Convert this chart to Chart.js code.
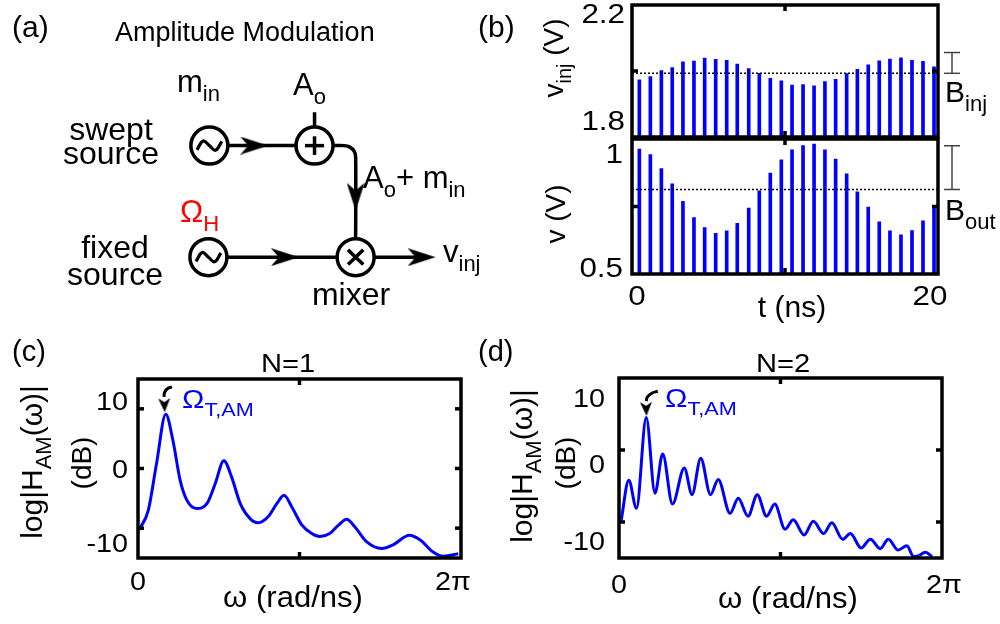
<!DOCTYPE html>
<html>
<head>
<meta charset="utf-8">
<script src="https://cdn.jsdelivr.net/npm/chart.js@4.4.0/dist/chart.umd.min.js"></script>
<style>
  body { margin: 0; background: #fff; }
  #wrap { position: relative; width: 1000px; height: 624px; overflow: hidden; }
  #wrap canvas { position: absolute; left: 0; top: 0; }
</style>
</head>
<body>
<div id="wrap">
  <canvas id="diagram" width="1000" height="624"></canvas>
  <canvas id="inj" width="1000" height="624"></canvas>
  <canvas id="out" width="1000" height="624"></canvas>
  <canvas id="n1" width="1000" height="624"></canvas>
  <canvas id="n2" width="1000" height="624"></canvas>
</div>
<script>
// ---------- data ----------
// (b) pulse train, t in ns
const pulseTimes = [0.48, 1.20, 1.92, 2.63, 3.33, 4.05, 4.75, 5.47, 6.19, 6.88, 7.63, 8.32, 9.04, 9.76,
  10.46, 11.18, 11.90, 12.61, 13.31, 14.03, 14.73, 15.44, 16.16, 16.86, 17.58, 18.30, 19.02, 19.74]
const vInjPeaks = [1.973, 1.983, 2.001, 2.010, 2.028, 2.030, 2.039, 2.035, 2.032, 2.021, 2.007, 1.993, 1.978, 1.970,
  1.957, 1.959, 1.955, 1.968, 1.975, 1.992, 2.005, 2.019, 2.031, 2.036, 2.040, 2.032, 2.029, 2.013]
const vOutPeaks = [0.963, 0.942, 0.890, 0.834, 0.769, 0.709, 0.672, 0.651, 0.660, 0.688, 0.744, 0.808, 0.874, 0.923,
  0.960, 0.976, 0.981, 0.960, 0.926, 0.871, 0.804, 0.748, 0.693, 0.660, 0.645, 0.661, 0.697, 0.748]
const injMean = 1.993
const outMean = 0.813
const bInjRange = [1.993, 2.056]
const bOutRange = [0.813, 0.975]

// (c) N=1 spectrum, omega in rad/ns, gain in dB
const n1Omega = [0.02, 0.20, 0.36, 0.54, 0.68, 0.82, 0.95, 1.14, 1.34, 1.50, 1.67, 1.82, 1.99, 2.18, 2.34, 2.53, 2.70,
  2.84, 2.99, 3.19, 3.38, 3.54, 3.73, 3.90, 4.06, 4.22, 4.45, 4.74, 4.96, 5.28, 5.49, 5.74, 5.94, 6.23]
const n1Gain = [-10.3, -7.0, 0.8, 9.1, 4.7, -2.0, -5.3, -6.7, -5.9, -2.6, 1.3, -1.4, -5.9, -8.4, -9.1, -8.1, -5.9,
  -4.5, -6.4, -9.5, -10.9, -11.4, -10.9, -9.5, -8.5, -9.8, -12.3, -13.4, -12.8, -11.2, -12.0, -14.0, -14.7, -14.3]

// (d) N=2 spectrum
const n2Omega = [0.04, 0.19, 0.34, 0.53, 0.70, 0.85, 1.04, 1.27, 1.42, 1.59, 1.78, 1.93, 2.16, 2.32, 2.51, 2.69, 2.87,
  3.03, 3.23, 3.39, 3.60, 3.78, 3.98, 4.14, 4.35, 4.50, 4.71, 4.89, 5.08, 5.24, 5.43, 5.60, 5.73, 5.82, 5.96, 6.09]
const n2Gain = [-9.9, -4.2, -8.1, 4.5, -6.0, -0.55, -7.5, -2.5, -6.2, -1.15, -6.2, -4.1, -8.8, -6.7, -9.2, -6.2, -9.2,
  -7.5, -11.0, -9.7, -11.8, -9.9, -11.6, -10.1, -12.4, -11.6, -13.6, -12.4, -13.7, -12.4, -13.9, -13.3, -14.8, -14.7, -14.2, -14.8]

// tick labels
const injTickValues = [2.2, 1.8]
const injTickLabels = ['2.2', '1.8']
const outTickValues = [1, 0.5]
const outTickLabels = ['1', '0.5']
const timeTickValues = [0, 20]
const timeTickLabels = ['0', '20']
const dbTickValues = [10, 0, -10]
const dbTickLabels = ['10', '0', '-10']
const omegaTickValues = [0, 2 * Math.PI]
const omegaTickLabels = ['0', '2\u03c0']

// ---------- helpers ----------
const FONT = '"Liberation Sans", Arial, Helvetica, sans-serif'

function parseRich(s) {
  const out = []
  const re = /_\{([^}]*)\}/g
  let last = 0, m
  while ((m = re.exec(s))) {
    if (m.index > last) out.push([s.slice(last, m.index), 0])
    out.push([m[1], 1])
    last = re.lastIndex
  }
  if (last < s.length) out.push([s.slice(last), 0])
  return out
}

function drawRich(ctx, s, x, y, o) {
  const size = o.size || 28
  const sub = Math.round(size * 0.72)
  const sx = o.sx || 1
  const parts = parseRich(s)
  let w = 0
  parts.forEach(p => {
    ctx.font = (p[1] ? sub : size) + 'px ' + FONT
    p.push(ctx.measureText(p[0]).width)
    w += p[2]
  })
  ctx.save()
  ctx.translate(x, y)
  if (o.rot) ctx.rotate(o.rot)
  ctx.scale(sx, 1)
  let cx = o.align === 'center' ? -w / 2 : o.align === 'right' ? -w : 0
  ctx.fillStyle = o.color || '#000'
  ctx.textAlign = 'left'
  ctx.textBaseline = 'alphabetic'
  parts.forEach(p => {
    ctx.font = (p[1] ? sub : size) + 'px ' + FONT
    ctx.fillText(p[0], cx, p[1] ? size * 0.3 : 0)
    cx += p[2]
  })
  ctx.restore()
}

function dart(len, wid) {
  const c = document.createElement('canvas')
  c.width = len
  c.height = wid
  const g = c.getContext('2d')
  g.fillStyle = '#000'
  g.beginPath()
  g.moveTo(len, wid / 2)
  g.lineTo(0, 0)
  g.lineTo(len * 0.28, wid / 2)
  g.lineTo(0, wid)
  g.closePath()
  g.fill()
  return c
}
const bigDart = dart(28, 18)
const smallDart = dart(14, 12)

// frame, inner ticks, tick labels, free text
const deco = {
  id: 'deco',
  afterDatasetsDraw(chart, args, o) {
    const ctx = chart.ctx
    const a = chart.chartArea
    const xs = chart.scales.x, ys = chart.scales.y
    const seg = (x1, y1, x2, y2) => { ctx.beginPath(); ctx.moveTo(x1, y1); ctx.lineTo(x2, y2); ctx.stroke() }
    ctx.save()
    if (o.frame) {
      ctx.strokeStyle = '#000'
      ctx.lineWidth = o.lw
      const tl = o.tickLen
      ;(o.xTicks || []).forEach(v => {
        const p = xs.getPixelForValue(v)
        seg(p, a.top, p, a.top + tl)
        seg(p, a.bottom, p, a.bottom - tl)
      })
      ;(o.yTicks || []).forEach(v => {
        const p = ys.getPixelForValue(v)
        seg(a.left, p, a.left + tl, p)
        seg(a.right, p, a.right - tl, p)
      })
      ctx.strokeRect(a.left, a.top, a.right - a.left, a.bottom - a.top)
    }
    ;(o.brackets || []).forEach(b => {
      ctx.strokeStyle = '#444'
      ctx.lineWidth = 1.5
      const y0 = ys.getPixelForValue(b.y0), y1 = ys.getPixelForValue(b.y1)
      seg(b.x, y0, b.x, y1)
      seg(b.x - b.cap, y0, b.x + b.cap, y0)
      seg(b.x - b.cap, y1, b.x + b.cap, y1)
    })
    if (o.yLab) {
      const L = o.yLab
      L.values.forEach((v, i) => {
        drawRich(ctx, L.labels[i], L.right, ys.getPixelForValue(v) + L.shift[i], { size: L.size, sx: L.sx, align: 'right' })
      })
    }
    if (o.xLab) {
      const L = o.xLab
      L.values.forEach((v, i) => {
        drawRich(ctx, L.labels[i], xs.getPixelForValue(v) + L.shift[i], L.baseline, { size: L.size, sx: L.sx, align: 'center' })
      })
    }
    ;(o.texts || []).forEach(t => drawRich(ctx, t.s, t.x, t.y, t))
    ctx.restore()
  }
}
Chart.register(deco)

Chart.defaults.animation = false
Chart.defaults.responsive = false
Chart.defaults.plugins.legend.display = false
Chart.defaults.plugins.tooltip.enabled = false
Chart.defaults.events = []

const BLUE = '#0000ff'

// ---------- (a) block diagram, page-pixel coordinates ----------
const wire = (pts, tension) => ({
  type: 'line', data: pts, borderColor: '#000', borderWidth: 3.5, pointRadius: 0,
  tension: tension || 0, fill: false, order: 3,
})
const stroke = (pts, w) => ({
  type: 'line', data: pts, borderColor: '#000', borderWidth: w || 3.5, pointRadius: 0,
  tension: 0.4, fill: false, order: 0,
})
new Chart(document.getElementById('diagram'), {
  type: 'scatter',
  data: {
    datasets: [
      wire([{ x: 214, y: 133 }, { x: 288, y: 133 }]),
      wire([{ x: 306, y: 97 }, { x: 306, y: 115 }]),
      wire([{ x: 324, y: 133 }, { x: 337, y: 133 }, { x: 343, y: 134.6 }, { x: 347.4, y: 139 }, { x: 349, y: 145 }, { x: 349, y: 236 }], 0.25),
      wire([{ x: 213, y: 253 }, { x: 331, y: 253 }]),
      wire([{ x: 367, y: 253 }, { x: 420, y: 253 }]),
      {
        data: [{ x: 243, y: 133 }, { x: 275, y: 253 }, { x: 418, y: 253 }],
        pointStyle: bigDart, pointRotation: 0, order: 2,
      },
      {
        data: [{ x: 349, y: 188 }],
        pointStyle: bigDart, pointRotation: 90, order: 2,
      },
      {
        data: [{ x: 196, y: 133 }, { x: 306, y: 133 }, { x: 195, y: 253 }, { x: 349, y: 253 }],
        pointRadius: 18.5, pointBorderWidth: 3.5, pointBorderColor: '#000', pointBackgroundColor: '#fff', order: 1,
      },
      stroke([{ x: 183, y: 137.5 }, { x: 189.5, y: 128 }, { x: 196, y: 133 }, { x: 202.5, y: 138 }, { x: 209, y: 128.5 }], 3.2),
      stroke([{ x: 182, y: 257.5 }, { x: 188.5, y: 248 }, { x: 195, y: 253 }, { x: 201.5, y: 258 }, { x: 208, y: 248.5 }], 3.2),
      stroke([{ x: 296, y: 133 }, { x: 316, y: 133 }], 3.5),
      stroke([{ x: 306, y: 123 }, { x: 306, y: 143 }], 3.5),
      stroke([{ x: 341, y: 245 }, { x: 357, y: 261 }], 3.5),
      stroke([{ x: 341, y: 261 }, { x: 357, y: 245 }], 3.5),
    ],
  },
  options: {
    layout: { padding: 0 },
    scales: {
      x: { type: 'linear', min: 0, max: 1000, display: false },
      y: { type: 'linear', min: 0, max: 624, reverse: true, display: false },
    },
    plugins: {
      deco: {
        texts: [
          { s: '(a)', x: 12, y: 37, size: 30 },
          { s: 'Amplitude Modulation', x: 115, y: 41, size: 27, sx: 1.0 },
          { s: 'm_{in}', x: 177, y: 92, size: 31 },
          { s: 'A_{o}', x: 293, y: 95, size: 31 },
          { s: 'swept', x: 111, y: 140, size: 32, align: 'center' },
          { s: 'source', x: 111, y: 164, size: 32, align: 'center' },
          { s: 'fixed', x: 115, y: 258, size: 32, align: 'center' },
          { s: 'source', x: 115, y: 285, size: 32, align: 'center' },
          { s: '\u03a9_{H}', x: 180, y: 222, size: 31, color: '#ff0000' },
          { s: 'A_{o}+ m_{in}', x: 363, y: 188, size: 31 },
          { s: 'v_{inj}', x: 443, y: 262, size: 31 },
          { s: 'mixer', x: 351, y: 305, size: 32, align: 'center' },
        ],
      },
    },
  },
})

// ---------- (b) time traces ----------
function pulseChart(id, peaks, mean, yMin, yMax, pad, deco) {
  return new Chart(document.getElementById(id), {
    type: 'bar',
    data: {
      datasets: [
        {
          type: 'line',
          data: [{ x: 0, y: mean }, { x: 20, y: mean }],
          borderColor: '#000', borderWidth: 1.6, borderDash: [2, 2], pointRadius: 0, order: 0,
        },
        {
          data: pulseTimes.map((t, i) => ({ x: t, y: peaks[i] })),
          backgroundColor: BLUE, barThickness: 3, order: 1,
        },
      ],
    },
    options: {
      layout: { padding: pad },
      scales: {
        x: { type: 'linear', min: 0, max: 20, offset: false, display: false },
        y: { type: 'linear', min: yMin, max: yMax, beginAtZero: false, display: false },
      },
      plugins: { deco: deco },
    },
  })
}

pulseChart('inj', vInjPeaks, injMean, 1.8, 2.2, { left: 632, right: 62, top: 5, bottom: 487 }, {
  frame: true, lw: 3.5, tickLen: 6, xTicks: [10], yTicks: [2.0],
  yLab: { values: injTickValues, labels: injTickLabels, shift: [18, -7], right: 625, size: 28, sx: 1.12 },
  brackets: [{ x: 952, cap: 8, y0: bInjRange[0], y1: bInjRange[1] }],
  texts: [
    { s: '(b)', x: 478, y: 37, size: 30 },
    { s: 'v_{inj} (V)', x: 563, y: 58, size: 28, rot: -Math.PI / 2, align: 'center' },
    { s: 'B_{inj}', x: 945, y: 102, size: 30 },
  ],
})

pulseChart('out', vOutPeaks, outMean, 0.5, 1.0, { left: 632, right: 62, top: 139, bottom: 350 }, {
  frame: true, lw: 3.5, tickLen: 6, xTicks: [10], yTicks: [0.75],
  yLab: { values: outTickValues, labels: outTickLabels, shift: [24, 3], right: 623, size: 28, sx: 1.12 },
  xLab: { values: timeTickValues, labels: timeTickLabels, shift: [5, -8], baseline: 305, size: 28, sx: 1.12 },
  brackets: [{ x: 952, cap: 8, y0: bOutRange[0], y1: bOutRange[1] }],
  texts: [
    { s: 'v (V)', x: 565, y: 214, size: 28, rot: -Math.PI / 2, align: 'center' },
    { s: 't (ns)', x: 792, y: 317, size: 30, align: 'center' },
    { s: 'B_{out}', x: 945, y: 220, size: 30 },
  ],
})

// ---------- (c), (d) spectra ----------
function spectrumChart(id, omega, gain, yMin, yMax, arrow, pad, deco) {
  return new Chart(document.getElementById(id), {
    type: 'scatter',
    data: {
      datasets: [
        {
          data: omega.map((w, i) => ({ x: w, y: gain[i] })),
          showLine: true, borderColor: BLUE, borderWidth: 3, pointRadius: 0,
          cubicInterpolationMode: 'monotone',
        },
        {
          data: arrow.slice(0, -1),
          showLine: true, borderColor: '#000', borderWidth: 3, pointRadius: 0, tension: 0.4,
        },
        {
          data: arrow.slice(-1),
          pointStyle: smallDart, pointRotation: 88,
        },
      ],
    },
    options: {
      layout: { padding: pad },
      scales: {
        x: { type: 'linear', min: 0, max: 2 * Math.PI, display: false },
        y: { type: 'linear', min: yMin, max: yMax, display: false },
      },
      plugins: { deco: deco },
    },
  })
}

spectrumChart('n1', n1Omega, n1Gain, -15, 15,
  [{ x: 0.661, y: 13.67 }, { x: 0.564, y: 13.33 }, { x: 0.515, y: 12.67 }, { x: 0.506, y: 12.0 }, { x: 0.515, y: 10.6 }],
  { left: 138, right: 539, top: 379, bottom: 66 }, {
    frame: true, lw: 3.5, tickLen: 6, xTicks: [Math.PI], yTicks: [10, 0, -10],
    yLab: { values: dbTickValues, labels: dbTickLabels, shift: [1, 9, 24], right: 128, size: 25, sx: 1.15 },
    xLab: { values: omegaTickValues, labels: omegaTickLabels, shift: [0, -8], baseline: 590, size: 25, sx: 1.15 },
    texts: [
      { s: '(c)', x: 12, y: 361, size: 29 },
      { s: 'N=1', x: 288, y: 372, size: 26, sx: 1.12, align: 'center' },
      { s: '\u03a9_{T,AM}', x: 182, y: 408, size: 25, sx: 1.2, color: BLUE },
      { s: 'log|H_{AM}(\u03c9)|', x: 42, y: 462, size: 30, rot: -Math.PI / 2, align: 'center' },
      { s: '(dB)', x: 91, y: 463, size: 28, rot: -Math.PI / 2, align: 'center' },
      { s: '\u03c9 (rad/ns)', x: 293, y: 607, size: 29, sx: 1.07, align: 'center' },
    ],
  })

spectrumChart('n2', n2Omega, n2Gain, -15, 10,
  [{ x: 0.754, y: 8.16 }, { x: 0.637, y: 7.88 }, { x: 0.550, y: 7.33 }, { x: 0.530, y: 6.78 }, { x: 0.530, y: 5.7 }],
  { left: 619, right: 58, top: 378, bottom: 66 }, {
    frame: true, lw: 3.5, tickLen: 6, xTicks: [Math.PI], yTicks: [0, -10],
    yLab: { values: dbTickValues, labels: dbTickLabels, shift: [29, 23, 28], right: 605, size: 25, sx: 1.15 },
    xLab: { values: omegaTickValues, labels: omegaTickLabels, shift: [0, 2], baseline: 593, size: 25, sx: 1.15 },
    texts: [
      { s: '(d)', x: 478, y: 361, size: 29 },
      { s: 'N=2', x: 783, y: 372, size: 26, sx: 1.12, align: 'center' },
      { s: '\u03a9_{T,AM}', x: 665, y: 407, size: 25, sx: 1.2, color: BLUE },
      { s: 'log|H_{AM}(\u03c9)|', x: 532, y: 466, size: 30, rot: -Math.PI / 2, align: 'center' },
      { s: '(dB)', x: 575, y: 463, size: 28, rot: -Math.PI / 2, align: 'center' },
      { s: '\u03c9 (rad/ns)', x: 788, y: 608, size: 29, sx: 1.07, align: 'center' },
    ],
  })
</script>
</body>
</html>
